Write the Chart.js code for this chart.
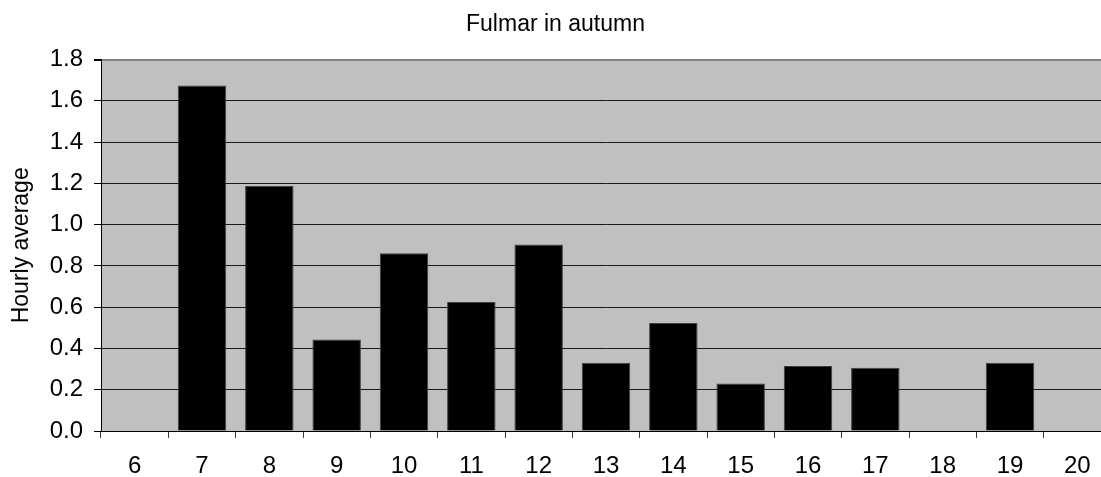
<!DOCTYPE html>
<html>
<head>
<meta charset="utf-8">
<script src="https://cdn.jsdelivr.net/npm/chart.js@4.4.1/dist/chart.umd.min.js"></script>
<style>
  html, body { margin: 0; padding: 0; background: #fff; overflow: hidden; width: 1101px; height: 477px; }
  #wrap { width: 1111px; height: 477px; }
</style>
</head>
<body>
<div id="wrap"><canvas id="c" width="1111" height="477"></canvas></div>
<script>
const categories = ['6','7','8','9','10','11','12','13','14','15','16','17','18','19','20'];
const hourlyAverage = [0, 1.674, 1.188, 0.444, 0.861, 0.625, 0.904, 0.331, 0.523, 0.230, 0.315, 0.307, 0, 0.331, 0];
const chartTitle = 'Fulmar in autumn';
const yTitle = 'Hourly average';

const plotBg = {
  id: 'plotBg',
  beforeDraw(chart) {
    const a = chart.chartArea, ctx = chart.ctx;
    ctx.save();
    ctx.fillStyle = '#C0C0C0';
    ctx.fillRect(a.left, a.top, a.right - a.left, a.bottom - a.top);
    ctx.restore();
  }
};

const FONT = "'Liberation Sans', Arial, sans-serif";

new Chart(document.getElementById('c'), {
  type: 'bar',
  data: {
    labels: categories,
    datasets: [{
      data: hourlyAverage,
      backgroundColor: '#000000',
      borderColor: '#404040',
      borderWidth: 1,
      barPercentage: 0.72,
      categoryPercentage: 1.0
    }]
  },
  options: {
    responsive: false,
    animation: false,
    layout: { padding: { left: 0, right: 0, top: 0, bottom: 0 } },
    plugins: {
      legend: { display: false },
      tooltip: { enabled: false },
      title: {
        display: true,
        text: chartTitle,
        color: '#000',
        font: { family: FONT, size: 23, weight: 'normal', lineHeight: 1.2 },
        padding: { top: 11, bottom: 21 }
      }
    },
    scales: {
      x: {
        afterFit(scale) { scale.height = 46; },
        grid: { display: true, drawOnChartArea: false, offset: true, color: '#404040', tickLength: 7, tickWidth: 1 },
        border: { color: '#000', width: 1 },
        ticks: { color: '#000', font: { family: FONT, size: 24 }, padding: 14, maxRotation: 0, autoSkip: false }
      },
      y: {
        min: 0, max: 1.8,
        afterFit(scale) { scale.width = 101; },
        grid: {
          color: (ctx) => (ctx.tick && ctx.tick.value >= 1.8 ? '#808080' : '#1a1a1a'),
          lineWidth: (ctx) => (ctx.tick && ctx.tick.value >= 1.8 ? 2 : 1),
          tickLength: 7,
          tickColor: '#000'
        },
        border: { color: '#000', width: 1 },
        ticks: {
          stepSize: 0.2,
          color: '#000',
          font: { family: FONT, size: 24 },
          padding: 11,
          callback: (v) => Number(v).toFixed(1)
        },
        title: {
          display: true,
          text: yTitle,
          color: '#000',
          font: { family: FONT, size: 23, weight: 'normal', lineHeight: 1.2 },
          padding: { top: 8, bottom: 0 }
        }
      }
    }
  },
  plugins: [plotBg]
});
</script>
</body>
</html>
